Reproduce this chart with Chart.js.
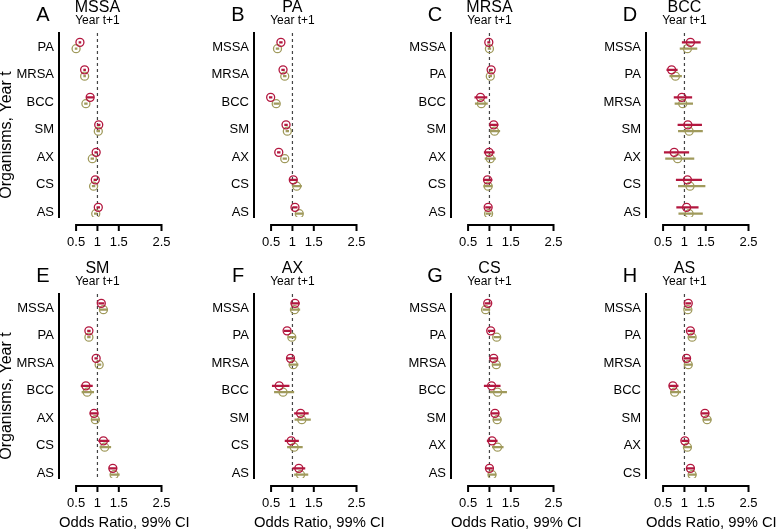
<!DOCTYPE html>
<html lang="en">
<head>
<meta charset="UTF-8" />
<title>Odds ratios, year t to year t+1</title>
<style>
  body { margin: 0; width: 777px; height: 530px; overflow: hidden; background: #fff; position: relative; }
  .panel { position: absolute; }
  canvas { display: block; }
</style>
</head>
<body>
<script src="https://cdn.jsdelivr.net/npm/chart.js"></script>
<script>
// panels: organism at year t+1, rows: organism at year t
const panelLetters = ['A', 'B', 'C', 'D', 'E', 'F', 'G', 'H'];
const panelTitles = ['MSSA', 'PA', 'MRSA', 'BCC', 'SM', 'AX', 'CS', 'AS'];
const panelRows = [
  ['PA', 'MRSA', 'BCC', 'SM', 'AX', 'CS', 'AS'],
  ['MSSA', 'MRSA', 'BCC', 'SM', 'AX', 'CS', 'AS'],
  ['MSSA', 'PA', 'BCC', 'SM', 'AX', 'CS', 'AS'],
  ['MSSA', 'PA', 'MRSA', 'SM', 'AX', 'CS', 'AS'],
  ['MSSA', 'PA', 'MRSA', 'BCC', 'AX', 'CS', 'AS'],
  ['MSSA', 'PA', 'MRSA', 'BCC', 'SM', 'CS', 'AS'],
  ['MSSA', 'PA', 'MRSA', 'BCC', 'SM', 'AX', 'AS'],
  ['MSSA', 'PA', 'MRSA', 'BCC', 'SM', 'AX', 'CS']
];
const xTicks = [0.5, 1, 1.5, 2.5];

// red series (odds ratio and 99% CI)
const redEst = [
  [0.59, 0.70, 0.83, 1.03, 0.97, 0.95, 1.02],
  [0.73, 0.78, 0.49, 0.85, 0.68, 1.02, 1.06],
  [0.985, 1.04, 0.79, 1.10, 0.99, 0.955, 0.97],
  [1.14, 0.70, 0.94, 1.08, 0.76, 1.07, 1.05],
  [1.09, 0.80, 0.97, 0.73, 0.92, 1.14, 1.36],
  [1.06, 0.875, 0.955, 0.69, 1.19, 0.97, 1.15],
  [0.96, 1.03, 1.10, 1.05, 1.13, 1.06, 1.00],
  [1.09, 1.14, 1.05, 0.73, 1.48, 1.01, 1.14]
];
const redLow = [
  [0.56, 0.67, 0.74, 0.99, 0.93, 0.91, 0.98],
  [0.69, 0.74, 0.45, 0.81, 0.64, 0.93, 1.00],
  [0.95, 1.00, 0.65, 1.01, 0.87, 0.86, 0.90],
  [0.94, 0.58, 0.75, 0.84, 0.52, 0.80, 0.81],
  [1.02, 0.76, 0.93, 0.61, 0.82, 1.02, 1.27],
  [0.96, 0.80, 0.86, 0.52, 1.04, 0.82, 1.00],
  [0.89, 0.96, 1.01, 0.87, 1.03, 0.94, 0.92],
  [1.02, 1.07, 0.98, 0.64, 1.39, 0.93, 1.05]
];
const redHigh = [
  [0.62, 0.73, 0.92, 1.07, 1.01, 0.99, 1.06],
  [0.77, 0.82, 0.53, 0.89, 0.72, 1.11, 1.12],
  [1.02, 1.08, 0.95, 1.21, 1.12, 1.07, 1.05],
  [1.38, 0.84, 1.18, 1.41, 1.11, 1.41, 1.33],
  [1.16, 0.84, 1.01, 0.89, 1.02, 1.28, 1.46],
  [1.17, 0.96, 1.05, 0.93, 1.38, 1.15, 1.30],
  [1.03, 1.11, 1.19, 1.26, 1.23, 1.19, 1.08],
  [1.16, 1.22, 1.14, 0.86, 1.58, 1.10, 1.23]
];

// olive series (odds ratio and 99% CI)
const oliveEst = [
  [0.50, 0.70, 0.73, 1.02, 0.88, 0.91, 0.96],
  [0.65, 0.82, 0.62, 0.88, 0.82, 1.10, 1.16],
  [1.00, 1.02, 0.81, 1.12, 1.02, 0.97, 0.98],
  [1.07, 0.79, 0.96, 1.11, 0.84, 1.13, 1.11],
  [1.14, 0.80, 1.04, 0.76, 0.95, 1.17, 1.39],
  [1.05, 0.985, 1.02, 0.78, 1.22, 1.04, 1.19],
  [0.91, 1.17, 1.16, 1.19, 1.18, 1.19, 1.06],
  [1.08, 1.18, 1.09, 0.77, 1.53, 1.07, 1.18]
];
const oliveLow = [
  [0.47, 0.67, 0.69, 0.98, 0.84, 0.87, 0.92],
  [0.61, 0.78, 0.56, 0.84, 0.77, 1.00, 1.08],
  [0.96, 0.98, 0.66, 1.01, 0.89, 0.86, 0.91],
  [0.89, 0.65, 0.77, 0.85, 0.55, 0.85, 0.86],
  [1.06, 0.76, 0.99, 0.63, 0.86, 1.05, 1.30],
  [0.94, 0.90, 0.91, 0.57, 1.05, 0.875, 1.04],
  [0.84, 1.10, 1.07, 1.01, 1.08, 1.06, 0.97],
  [1.01, 1.10, 1.01, 0.67, 1.43, 0.98, 1.09]
];
const oliveHigh = [
  [0.53, 0.73, 0.77, 1.06, 0.92, 0.95, 1.00],
  [0.69, 0.86, 0.70, 0.92, 0.87, 1.22, 1.25],
  [1.04, 1.06, 0.96, 1.25, 1.15, 1.07, 1.05],
  [1.30, 0.94, 1.20, 1.43, 1.23, 1.49, 1.43],
  [1.23, 0.84, 1.09, 0.92, 1.06, 1.32, 1.52],
  [1.18, 1.08, 1.14, 1.04, 1.43, 1.24, 1.37],
  [1.00, 1.26, 1.26, 1.41, 1.28, 1.33, 1.16],
  [1.15, 1.26, 1.18, 0.92, 1.63, 1.17, 1.28]
];

const RED = '#b3173f';
const OLIVE = '#a09a5c';
const FONT = "'Liberation Sans', Arial, sans-serif";
const panelLeft = [0, 195, 392, 587];

Chart.defaults.font.family = FONT;
Chart.defaults.color = '#000';

// dashed line at OR = 1, R-style x axis, panel titles
const decor = {
  id: 'decor',
  beforeDatasetsDraw(chart, args, opts) {
    const { ctx, chartArea, scales: { x } } = chart;
    const x1 = x.getPixelForValue(1);
    ctx.save();
    ctx.strokeStyle = '#444';
    ctx.lineWidth = 1.2;
    ctx.setLineDash([3, 3]);
    ctx.beginPath();
    ctx.moveTo(x1, chartArea.top);
    ctx.lineTo(x1, chartArea.bottom);
    ctx.stroke();
    ctx.restore();
  },
  afterDraw(chart, args, opts) {
    const { ctx, chartArea, scales: { x } } = chart;
    const y0 = chartArea.bottom + 8;
    const x1 = x.getPixelForValue(1);
    ctx.save();
    ctx.strokeStyle = '#000';
    ctx.lineWidth = 2;
    ctx.beginPath();
    ctx.moveTo(x.getPixelForValue(xTicks[0]), y0);
    ctx.lineTo(x.getPixelForValue(xTicks[xTicks.length - 1]), y0);
    xTicks.forEach(v => {
      const px = x.getPixelForValue(v);
      ctx.moveTo(px, y0 - 1);
      ctx.lineTo(px, y0 + 6);
    });
    ctx.stroke();

    ctx.fillStyle = '#000';
    ctx.textAlign = 'center';
    ctx.textBaseline = 'middle';
    ctx.font = '16px ' + FONT;
    ctx.fillText(opts.title, x1, 8);
    ctx.font = '12px ' + FONT;
    ctx.fillText('Year t+1', x1, 21);
    ctx.font = '20px ' + FONT;
    ctx.fillText(opts.letter, 43, 15);

    if (opts.ylabel) {
      ctx.translate(7, 135);
      ctx.rotate(-Math.PI / 2);
      ctx.font = '16px ' + FONT;
      ctx.fillText(opts.ylabel, 0, 0);
    }
    ctx.restore();
  }
};

function ciSegments(lo, hi, shift) {
  const d = [];
  lo.forEach((v, k) => {
    d.push({ x: v, y: k + shift }, { x: hi[k], y: k + shift }, { x: null, y: null });
  });
  return d;
}

function makePanel(i) {
  const bottomRow = i >= 4;
  const rows = panelRows[i];
  const redShift = -0.17;
  const oliveShift = 0.06;

  const div = document.createElement('div');
  div.className = 'panel';
  div.style.left = panelLeft[i % 4] + 'px';
  div.style.top = (bottomRow ? 261 : 0) + 'px';
  const canvas = document.createElement('canvas');
  canvas.width = 195;
  canvas.height = bottomRow ? 269 : 261;
  div.appendChild(canvas);
  document.body.appendChild(div);

  new Chart(canvas, {
    type: 'scatter',
    data: {
      datasets: [
        {
          data: redEst[i].map((v, k) => ({ x: v, y: k + redShift })),
          borderColor: RED, backgroundColor: 'rgba(0,0,0,0)',
          pointRadius: 4, borderWidth: 1.3, order: 0
        },
        {
          data: ciSegments(redLow[i], redHigh[i], redShift),
          showLine: true, borderColor: RED, borderWidth: 2.4,
          pointRadius: 0, order: 1
        },
        {
          data: oliveEst[i].map((v, k) => ({ x: v, y: k + oliveShift })),
          borderColor: OLIVE, backgroundColor: 'rgba(0,0,0,0)',
          pointRadius: 4, borderWidth: 1.3, order: 2
        },
        {
          data: ciSegments(oliveLow[i], oliveHigh[i], oliveShift),
          showLine: true, borderColor: OLIVE, borderWidth: 2.2,
          pointRadius: 0, order: 3
        }
      ]
    },
    options: {
      responsive: false,
      animation: false,
      devicePixelRatio: 1,
      layout: { padding: { top: 33, left: 0, right: 0, bottom: 0 } },
      plugins: {
        legend: { display: false },
        tooltip: { enabled: false },
        decor: {
          title: panelTitles[i],
          letter: panelLetters[i],
          ylabel: i % 4 === 0 ? 'Organisms, Year t' : ''
        }
      },
      scales: {
        x: {
          type: 'linear',
          min: 0.1,
          max: 3.16,
          grid: { display: false, drawTicks: false },
          border: { display: false },
          afterBuildTicks: s => { s.ticks = xTicks.map(v => ({ value: v })); },
          afterFit: s => { s.height = bottomRow ? 52 : 44; },
          ticks: {
            padding: 18, autoSkip: false, maxRotation: 0,
            font: { size: 13 }, color: '#000',
            callback: v => String(v)
          },
          title: {
            display: bottomRow,
            text: 'Odds Ratio, 99% CI',
            font: { size: 15, lineHeight: 1 },
            padding: 0,
            color: '#000'
          }
        },
        y: {
          type: 'linear',
          reverse: true,
          min: -0.51,
          max: 6.18,
          grid: { display: false, drawTicks: false },
          border: { display: true, color: '#000', width: 2 },
          afterBuildTicks: s => { s.ticks = rows.map((r, k) => ({ value: k })); },
          afterFit: s => { s.width = 59; },
          ticks: {
            padding: 5, autoSkip: false,
            font: { size: 13 }, color: '#000',
            callback: v => rows[v]
          }
        }
      }
    },
    plugins: [decor]
  });
}

for (let i = 0; i < 8; i++) makePanel(i);
</script>
</body>
</html>
